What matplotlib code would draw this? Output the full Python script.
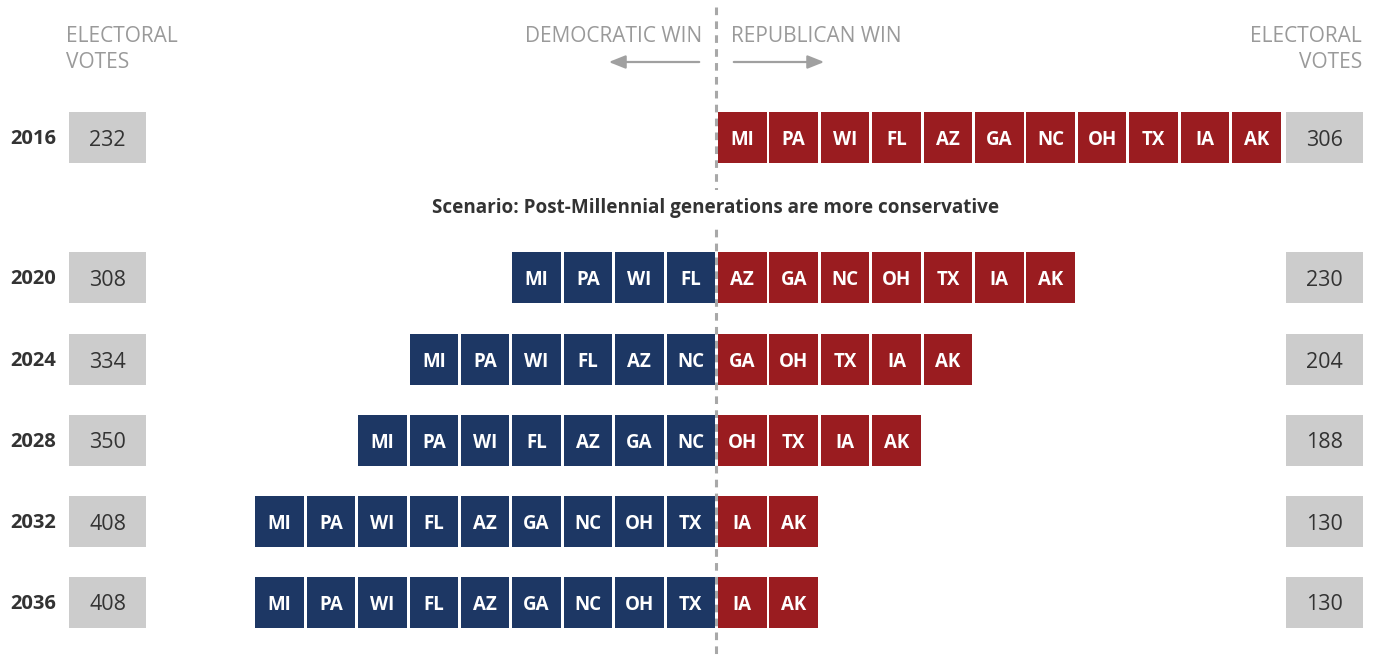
import matplotlib
matplotlib.use("Agg")
import matplotlib.pyplot as plt
from matplotlib.patches import Rectangle

plt.rcParams['font.family'] = ['Open Sans', 'DejaVu Sans']
plt.rcParams['lines.scale_dashes'] = False

# data
years = ['2016', '2020', '2024', '2028', '2032', '2036']
dem_states = [
    [],
    ['MI', 'PA', 'WI', 'FL'],
    ['MI', 'PA', 'WI', 'FL', 'AZ', 'NC'],
    ['MI', 'PA', 'WI', 'FL', 'AZ', 'GA', 'NC'],
    ['MI', 'PA', 'WI', 'FL', 'AZ', 'GA', 'NC', 'OH', 'TX'],
    ['MI', 'PA', 'WI', 'FL', 'AZ', 'GA', 'NC', 'OH', 'TX'],
]
rep_states = [
    ['MI', 'PA', 'WI', 'FL', 'AZ', 'GA', 'NC', 'OH', 'TX', 'IA', 'AK'],
    ['AZ', 'GA', 'NC', 'OH', 'TX', 'IA', 'AK'],
    ['GA', 'OH', 'TX', 'IA', 'AK'],
    ['OH', 'TX', 'IA', 'AK'],
    ['IA', 'AK'],
    ['IA', 'AK'],
]
dem_votes = [232, 308, 334, 350, 408, 408]
rep_votes = [306, 230, 204, 188, 130, 130]
scenario = 'Scenario: Post-Millennial generations are more conservative'

# style
blue = '#1d3764'
red = '#9a1c20'
box_gray = '#cccccc'
label_gray = '#9a9a9a'
dark = '#333333'

row_y = [137.5, 277.5, 359.5, 440.5, 521.5, 602.5]
center = 716.5
pitch = 51.4
bw = 48.5
bh = 51

fig = plt.figure(figsize=(13.78, 6.56), dpi=100)
ax = fig.add_axes([0, 0, 1, 1])
ax.set_xlim(0, 1378)
ax.set_ylim(656, 0)
ax.axis('off')

# centre dashed line
ax.plot([716, 716], [7, 656], color='#a8a8a8', lw=2.2, dashes=(5.5, 4.5), zorder=1)

for i, yr in enumerate(years):
    y = row_y[i]
    ax.text(33.5, y + 1.5, yr, ha='center', va='center', fontsize=14.5, fontweight='bold', color=dark)
    # electoral vote boxes
    ax.add_patch(Rectangle((69, y - bh / 2), 77, bh, color=box_gray, lw=0, zorder=2))
    ax.text(107.5, y + 2.5, str(dem_votes[i]), ha='center', va='center', fontsize=15.5, color=dark)
    ax.add_patch(Rectangle((1286, y - bh / 2), 77, bh, color=box_gray, lw=0, zorder=2))
    ax.text(1324.5, y + 2.5, str(rep_votes[i]), ha='center', va='center', fontsize=15.5, color=dark)

    # democratic states, growing leftwards from the centre
    n = len(dem_states[i])
    for j, st in enumerate(dem_states[i]):
        right = center - 1.5 - (n - 1 - j) * pitch
        ax.add_patch(Rectangle((right - bw, y - bh / 2), bw, bh, color=blue, lw=0, zorder=2))
        ax.text(right - bw / 2, y + 2.5, st, ha='center', va='center', fontsize=13.5,
                fontweight='bold', color='white', zorder=3)
    # republican states, growing rightwards
    for j, st in enumerate(rep_states[i]):
        left = center + 1.5 + j * pitch
        ax.add_patch(Rectangle((left, y - bh / 2), bw, bh, color=red, lw=0, zorder=2))
        ax.text(left + bw / 2, y + 2.5, st, ha='center', va='center', fontsize=13.5,
                fontweight='bold', color='white', zorder=3)

# headers
for x0, ha in [(66, 'left'), (1362, 'right')]:
    ax.text(x0, 36, 'ELECTORAL', ha=ha, va='center', fontsize=15, color=label_gray)
    ax.text(x0, 63, 'VOTES', ha=ha, va='center', fontsize=15, color=label_gray)
ax.text(702, 36, 'DEMOCRATIC WIN', ha='right', va='center', fontsize=15, color=label_gray)
ax.text(731, 36, 'REPUBLICAN WIN', ha='left', va='center', fontsize=15, color=label_gray)
ax.annotate('', xy=(606, 62), xytext=(702, 62),
            arrowprops=dict(arrowstyle='-|>,head_length=1.0,head_width=0.4', color='#a0a0a0', lw=1.6))
ax.annotate('', xy=(827, 62), xytext=(731, 62),
            arrowprops=dict(arrowstyle='-|>,head_length=1.0,head_width=0.4', color='#a0a0a0', lw=1.6))

ax.text(716, 208, scenario, ha='center', va='center', fontsize=13.6, fontweight='bold', color=dark,
        zorder=3, bbox=dict(facecolor='white', edgecolor='none', pad=6))

fig.savefig('out.png', dpi=100)
